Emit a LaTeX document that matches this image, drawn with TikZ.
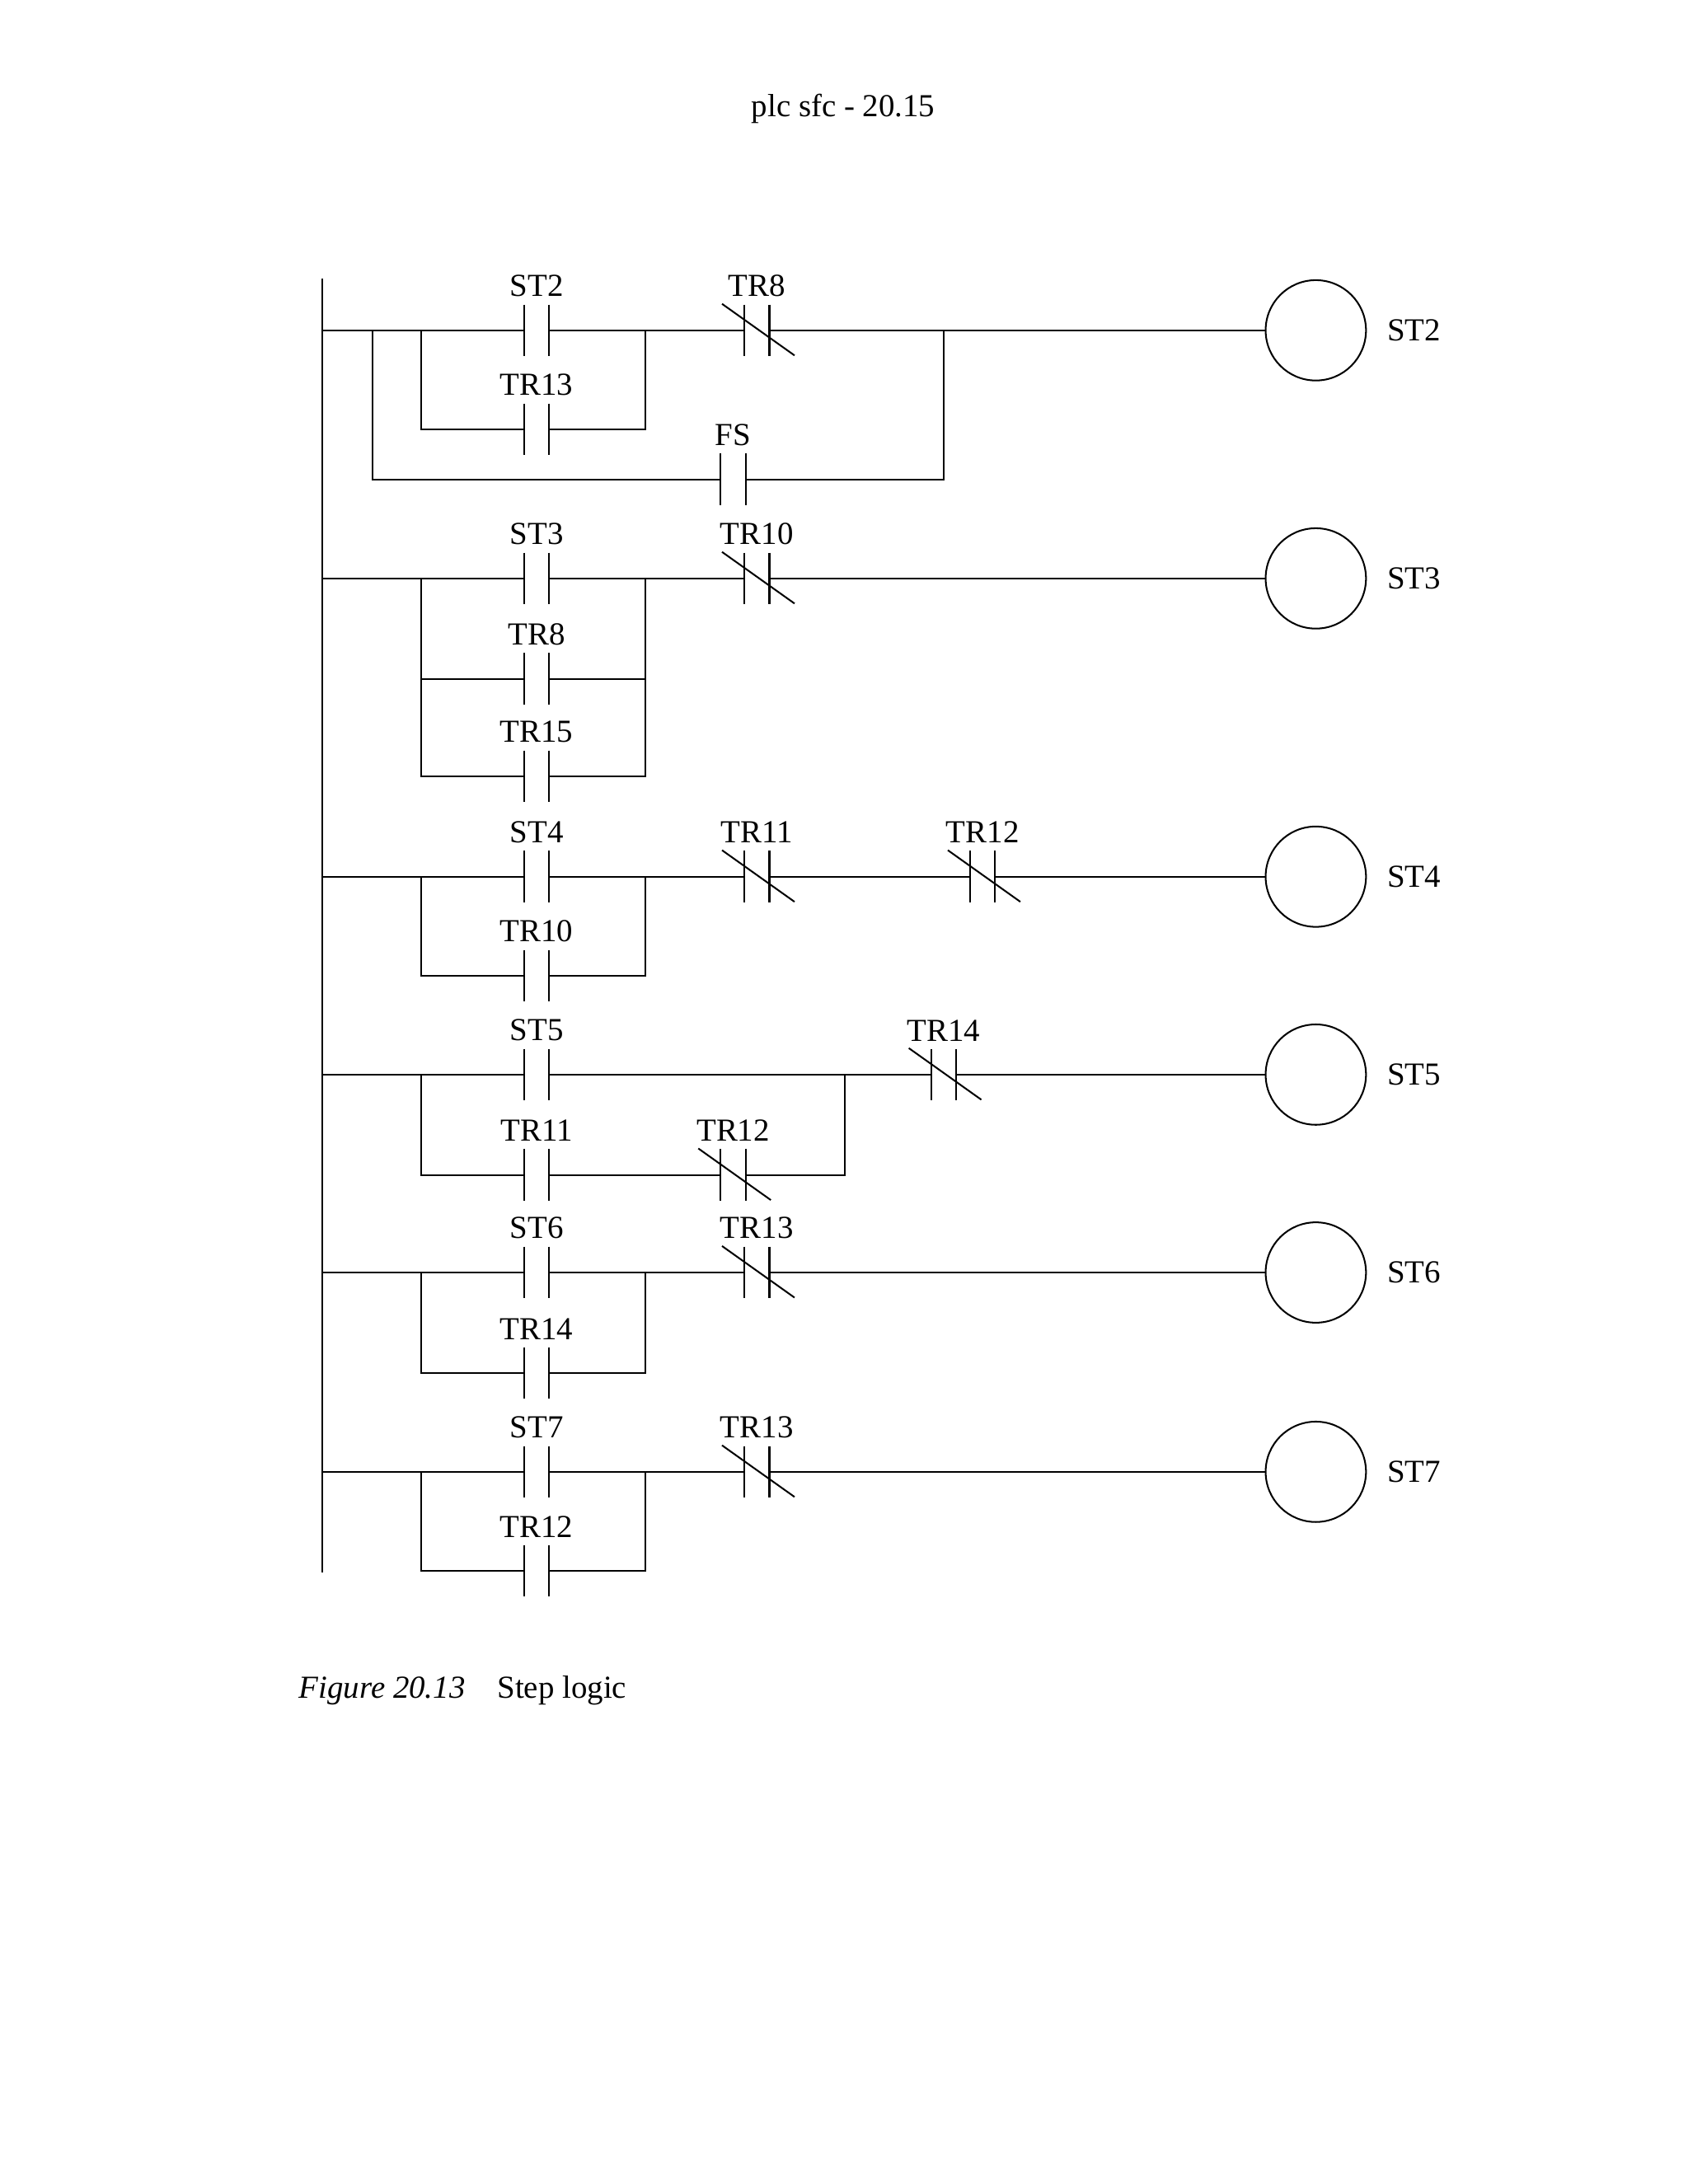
\documentclass[tikz,border=0pt]{standalone}
\usepackage{fontspec}
\setmainfont{Liberation Serif}
\begin{document}
\begin{tikzpicture}[x=1pt,y=-1pt,line width=1.2pt,
  lbl/.style={font=\fontsize{23}{26}\selectfont,inner sep=0pt},
  no/.style={minimum width=18pt,minimum height=37pt,inner sep=0pt,outer sep=0pt,
    append after command={(\tikzlastnode.north west) edge (\tikzlastnode.south west)
      (\tikzlastnode.north east) edge (\tikzlastnode.south east)}},
  nc/.style={no,append after command={([shift={(-25,-19)}]\tikzlastnode.center) edge ([shift={(27,18)}]\tikzlastnode.center)}},
  lab/.style={label={[lbl,label distance=5pt]above:#1}},
  coil/.style={circle,draw,minimum size=72pt,inner sep=0pt,label={[lbl,label distance=14pt]right:#1}}]
\useasboundingbox (0,0) rectangle (1211,1567);
\node[lbl] (hdr) at (605,78) {plc sfc - 20.15};
\node[lbl,anchor=west] (cap) at (214,1213) {\textit{Figure 20.13}\quad Step logic};
\coordinate (top) at (231,200); \coordinate (bot) at (231,1128);
\draw (top) -- (bot);
% rung 1
\coordinate (a1) at (231,237); \coordinate (o1) at (267,237); \coordinate (b1) at (302,237);
\coordinate (e1) at (463,237); \coordinate (f1) at (677,237);
\node[no,lab=ST2] (r1a) at (385,237) {};
\node[no,lab=TR13] (r1b) at (385,308) {};
\node[nc,lab=TR8] (r1c) at (543,237) {};
\node[no,lab=FS] (r1d) at (526,344) {};
\node[coil=ST2] (c1) at (944,237) {};
\draw (a1) -- (r1a.west) (r1a.east) -- (r1c.west) (r1c.east) -- (c1.west);
\draw (b1) |- (r1b.west) (r1b.east) -| (e1);
\draw (o1) |- (r1d.west) (r1d.east) -| (f1);
% rung 2
\coordinate (a2) at (231,415); \coordinate (b2) at (302,415); \coordinate (e2) at (463,415);
\node[no,lab=ST3] (r2a) at (385,415) {};
\node[no,lab=TR8] (r2b) at (385,487) {};
\node[no,lab=TR15] (r2d) at (385,557) {};
\node[nc,lab=TR10] (r2c) at (543,415) {};
\node[coil=ST3] (c2) at (944,415) {};
\draw (a2) -- (r2a.west) (r2a.east) -- (r2c.west) (r2c.east) -- (c2.west);
\draw (b2) |- (r2d.west) (r2d.east) -| (e2);
\draw (r2b.west) -- (r2b.west -| b2) (r2b.east) -- (r2b.east -| e2);
% rung 3
\coordinate (a3) at (231,629); \coordinate (b3) at (302,629); \coordinate (e3) at (463,629);
\node[no,lab=ST4] (r3a) at (385,629) {};
\node[no,lab=TR10] (r3b) at (385,700) {};
\node[nc,lab=TR11] (r3c) at (543,629) {};
\node[nc,lab=TR12] (r3d) at (705,629) {};
\node[coil=ST4] (c3) at (944,629) {};
\draw (a3) -- (r3a.west) (r3a.east) -- (r3c.west) (r3c.east) -- (r3d.west) (r3d.east) -- (c3.west);
\draw (b3) |- (r3b.west) (r3b.east) -| (e3);
% rung 4
\coordinate (a4) at (231,771); \coordinate (b4) at (302,771); \coordinate (e4) at (606,771);
\node[no,lab=ST5] (r4a) at (385,771) {};
\node[no,lab=TR11] (r4b) at (385,843) {};
\node[nc,lab=TR12] (r4d) at (526,843) {};
\node[nc,lab=TR14] (r4c) at (677,771) {};
\node[coil=ST5] (c4) at (944,771) {};
\draw (a4) -- (r4a.west) (r4a.east) -- (r4c.west) (r4c.east) -- (c4.west);
\draw (b4) |- (r4b.west) (r4b.east) -- (r4d.west) (r4d.east) -| (e4);
% rung 5
\coordinate (a5) at (231,913); \coordinate (b5) at (302,913); \coordinate (e5) at (463,913);
\node[no,lab=ST6] (r5a) at (385,913) {};
\node[no,lab=TR14] (r5b) at (385,985) {};
\node[nc,lab=TR13] (r5c) at (543,913) {};
\node[coil=ST6] (c5) at (944,913) {};
\draw (a5) -- (r5a.west) (r5a.east) -- (r5c.west) (r5c.east) -- (c5.west);
\draw (b5) |- (r5b.west) (r5b.east) -| (e5);
% rung 6
\coordinate (a6) at (231,1056); \coordinate (b6) at (302,1056); \coordinate (e6) at (463,1056);
\node[no,lab=ST7] (r6a) at (385,1056) {};
\node[no,lab=TR12] (r6b) at (385,1127) {};
\node[nc,lab=TR13] (r6c) at (543,1056) {};
\node[coil=ST7] (c6) at (944,1056) {};
\draw (a6) -- (r6a.west) (r6a.east) -- (r6c.west) (r6c.east) -- (c6.west);
\draw (b6) |- (r6b.west) (r6b.east) -| (e6);
\end{tikzpicture}
\end{document}
